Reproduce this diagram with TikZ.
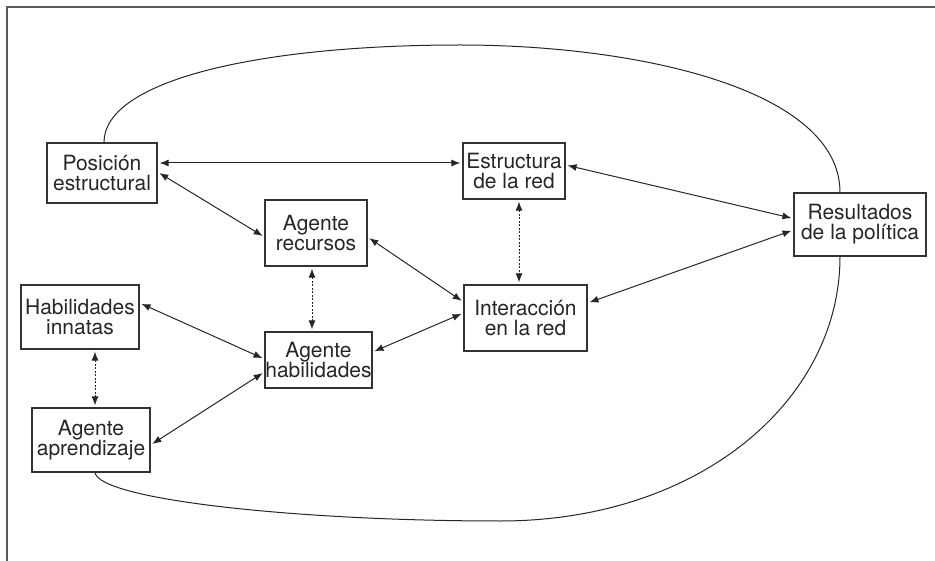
\documentclass[tikz,border=0pt]{standalone}
\usepackage{fontspec}
\setmainfont{TeX Gyre Heros}
\usetikzlibrary{arrows.meta}

\begin{document}
\begin{tikzpicture}[x=1pt, y=-1pt,
  box/.style={draw=black!80, line width=1.2pt, align=center, inner sep=0pt,
    text=black!85, font=\fontsize{21}{20}\selectfont},
  link/.style={{Latex[length=9pt,width=7pt]}-{Latex[length=9pt,width=7pt]},
    black!85, line width=1pt, shorten <=2pt, shorten >=2pt},
  dotlink/.style={link, dash pattern=on 2pt off 1.5pt}]
  \useasboundingbox (0,0) rectangle (935,561);

  % Frame (only top and left edges show)
  \draw[black!65, line width=2pt] (935,7) -- (7,7) -- (7,561);

  % Boxes
  \node[box, minimum width=110pt, minimum height=60pt] (pos) at (102,173) {Posición\\estructural};
  \node[box, minimum width=102pt, minimum height=66pt] (rec) at (316,233) {Agente\\recursos};
  \node[box, minimum width=102pt, minimum height=56pt] (est) at (514,171) {Estructura\\de la red};
  \node[box, minimum width=132pt, minimum height=63pt] (res) at (860,224.5) {Resultados\\de la política};
  \node[box, minimum width=123pt, minimum height=66pt] (int) at (525.5,318) {Interacción\\en la red};
  \node[box, minimum width=118pt, minimum height=64pt] (inn) at (80,317) {Habilidades\\innatas};
  \node[box, minimum width=107pt, minimum height=56pt] (hab) at (318.5,360) {Agente\\habilidades};
  \node[box, minimum width=118pt, minimum height=64pt] (apr) at (91,440) {Agente\\aprendizaje};

  % Two-way links
  \draw[link] ([yshift=10pt]pos.east) -- ([yshift=8pt]est.west);
  \draw[link] ([yshift=1pt]pos.east) -- ([yshift=-4pt]rec.west);
  \draw[link] ([yshift=-4pt]rec.east) -- ([yshift=16pt]int.west);
  \draw[link] ([yshift=8pt]hab.east) -- ([yshift=5pt]int.west);
  \draw[link] ([yshift=6pt]est.east) -- ([yshift=6pt]res.west);
  \draw[link] ([yshift=15pt]int.east) -- ([yshift=-5.5pt]res.west);
  \draw[link] ([yshift=14pt]inn.east) -- ([yshift=1pt]hab.west);
  \draw[link] ([yshift=-5pt]apr.east) -- ([yshift=-12pt]hab.west);

  % Dotted links
  \draw[dotlink] ([xshift=5pt]est.south) -- ([xshift=-6.5pt]int.north);
  \draw[dotlink] ([xshift=-4pt]rec.south) -- ([xshift=-6.5pt]hab.north);
  \draw[dotlink] ([xshift=15pt]inn.south) -- ([xshift=4pt]apr.north);

  % Feedback curves
  \coordinate (top) at (460,45);
  \coordinate (bot) at (500,521);
  \draw[black!85, line width=1pt] ([xshift=2pt]pos.north) .. controls (104,80) and (260,45) .. (top)
    .. controls (640,45) and (840,90) .. ([xshift=-20pt]res.north);
  \draw[black!85, line width=1pt] ([xshift=4pt]apr.south) .. controls (100,500) and (300,521) .. (bot)
    .. controls (700,521) and (840,400) .. ([xshift=-20pt]res.south);
\end{tikzpicture}
\end{document}
